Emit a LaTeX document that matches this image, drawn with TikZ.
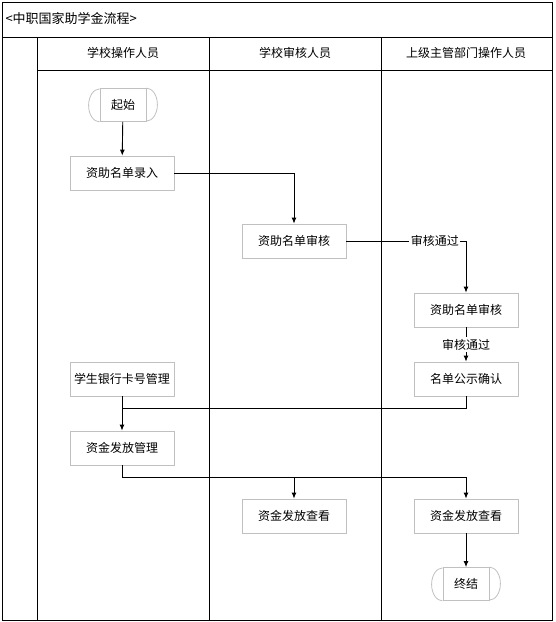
\documentclass[tikz,border=0pt]{standalone}
\usepackage{fontspec}
\setmainfont{Noto Sans CJK SC}
\usetikzlibrary{arrows.meta}
\definecolor{boxgray}{RGB}{192,192,192}
\tikzset{
  task/.style={draw=boxgray, line width=0.8pt, minimum width=104pt, minimum height=34pt, inner sep=0pt},
  term/.style={draw=boxgray, line width=0.8pt, minimum width=46pt, minimum height=33pt, inner sep=0pt},
  flow/.style={-{Latex[length=6pt,width=5pt]}, line width=0.9pt},
  link/.style={line width=0.9pt},
  lab/.style={fill=white, inner sep=1.5pt},
  lane/.style={line width=0.9pt},
}
% rounded caps for the start and end nodes
\newcommand{\capsof}[1]{%
  \draw[boxgray, line width=0.8pt] (#1.north east) arc[start angle=90, end angle=-90, x radius=11pt, y radius=16.5pt]
    (#1.south west) arc[start angle=270, end angle=90, x radius=11pt, y radius=16.5pt];}

\begin{document}
\begin{tikzpicture}[x=1pt,y=-1pt,font=\fontsize{12}{14}\selectfont]
	\useasboundingbox (0,0) rectangle (555,622);
	% frame and lanes
	\draw[lane] (2,2) rectangle (552,620);
	\draw[lane] (2,37) -- (552,37);
	\draw[lane] (37,70) -- (552,70);
	\foreach \x in {37,209,381}
	\draw[lane] (\x,37) -- (\x,620);
	\node[anchor=west, font=\fontsize{13}{15}\selectfont] (title) at (2,19) {<中职国家助学金流程>};
	\node (h1) at (123,53) {学校操作人员};
	\node (h2) at (295,53) {学校审核人员};
	\node (h3) at (466,53) {上级主管部门操作人员};

	% steps
	\node[term] (start) at (123,105) {起始};
	\capsof{start}
	\node[task] (input) at (122,173) {资助名单录入};
	\node[task] (check) at (294,241) {资助名单审核};
	\node[task] (recheck) at (466,310) {资助名单审核};
	\node[task] (publish) at (466,379) {名单公示确认};
	\node[task] (bank) at (122,379) {学生银行卡号管理};
	\node[task] (pay) at (122,448) {资金发放管理};
	\node[task] (view1) at (294,516) {资金发放查看};
	\node[task] (view2) at (466,516) {资金发放查看};
	\node[term] (stop) at (466,584) {终结};
	\capsof{stop}

	% connectors
	\coordinate (j1) at (122,408);
	\coordinate (j2) at (294,477);
	\draw[flow] (start) -- (input);
	\draw[flow] (input.east) -| (check.north);
	\draw[flow] (check.east) -| node[lab, pos=0.37] {审核通过} (recheck.north);
	\draw[flow] (recheck) -- node[lab] {审核通过} (publish);
	\draw[link] (publish.south) |- (j1);
	\draw[link] (bank.south) -- (j1);
	\draw[flow] (j1) -- (pay.north);
	\draw[link] (pay.south) |- (j2);
	\draw[flow] (j2) -- (view1.north);
	\draw[flow] (j2) -| (view2.north);
	\draw[flow] (view2) -- (stop);
\end{tikzpicture}
\end{document}
